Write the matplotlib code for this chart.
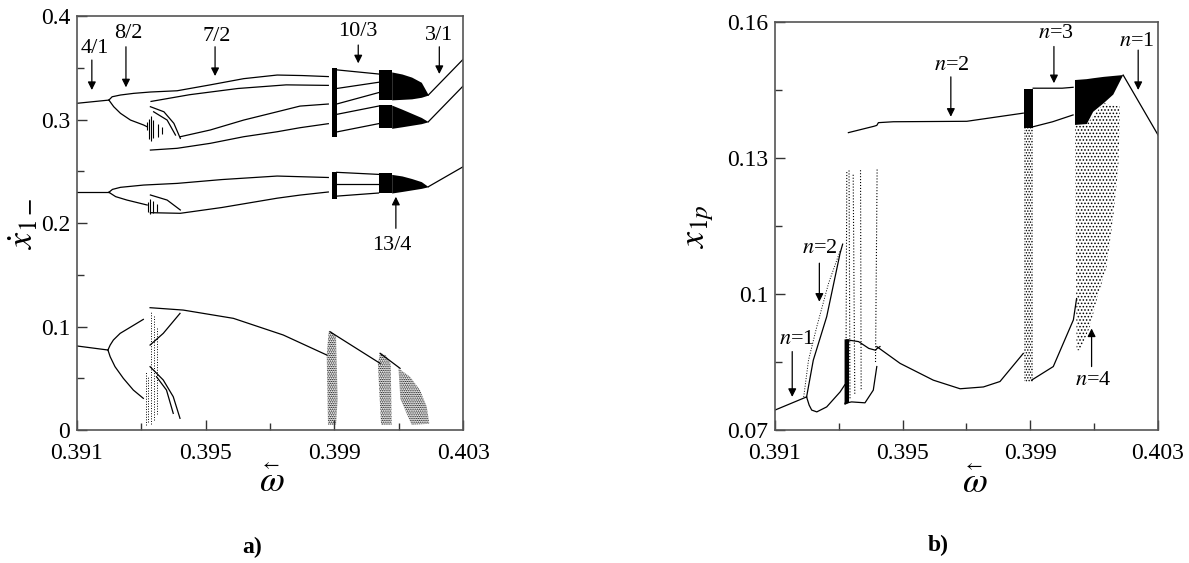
import numpy as np
import matplotlib.pyplot as plt

plt.rcParams['font.family'] = ['Liberation Serif', 'DejaVu Serif']
plt.rcParams['mathtext.fontset'] = 'stix'
plt.rcParams['hatch.linewidth'] = 0.7

# ---------------- panel a): x1- (velocity) vs omega ----------------
# upper group (~0.3)
a_p1_w = [0.3910, 0.39199]
a_p1_y = [0.3157, 0.3188]
a_top_w = [0.39199, 0.39209, 0.39235, 0.39276, 0.39328, 0.39411, 0.39514, 0.39618, 0.39722, 0.39800, 0.39881]
a_top_y = [0.3188, 0.3220, 0.3237, 0.3253, 0.3266, 0.3278, 0.3335, 0.3395, 0.3430, 0.3425, 0.3415]
a_sec_w = [0.39330, 0.39450, 0.39600, 0.39750, 0.39881]
a_sec_y = [0.3175, 0.3240, 0.3300, 0.3335, 0.3330]
a_thr_w = [0.39421, 0.39514, 0.39618, 0.39722, 0.39793, 0.39881]
a_thr_y = [0.2834, 0.2899, 0.2995, 0.3075, 0.3130, 0.3150]
a_bot_w = [0.39328, 0.39411, 0.39514, 0.39618, 0.39722, 0.39793, 0.39881]
a_bot_y = [0.2705, 0.2722, 0.2770, 0.2834, 0.2882, 0.2921, 0.2960]
a_low_w = [0.39199, 0.39214, 0.39235, 0.39266, 0.39307, 0.39318]
a_low_y = [0.3188, 0.3124, 0.3060, 0.2995, 0.2947, 0.2930]
a_arc1_w = [0.39328, 0.39370, 0.39401, 0.39421]
a_arc1_y = [0.3124, 0.3075, 0.2963, 0.2818]
a_arc2_w = [0.39338, 0.39380, 0.39406]
a_arc2_y = [0.3075, 0.2995, 0.2850]
a_spk_w = [0.39318, 0.39324, 0.39330, 0.39337, 0.39352, 0.39365]
a_spk_lo = [0.2900, 0.2810, 0.2790, 0.2820, 0.2830, 0.2860]
a_spk_hi = [0.2980, 0.3010, 0.3030, 0.3000, 0.2960, 0.2930]
# period-3 fan between the chaotic bands (left / right end values)
a_fan_y0 = [0.3480, 0.3300, 0.3150, 0.3050, 0.2880]
a_fan_y1 = [0.3440, 0.3360, 0.3260, 0.3130, 0.2960]
a_p3_w = [0.40192, 0.40300]
a_p3a_y = [0.3237, 0.3582]
a_p3b_y = [0.2979, 0.3324]

# middle group (~0.23)
b_p1_w = [0.3910, 0.39199]
b_p1_y = [0.2297, 0.2297]
b_up_w = [0.39199, 0.39210, 0.39235, 0.39307, 0.39411, 0.39550, 0.39722, 0.39881]
b_up_y = [0.2297, 0.2325, 0.2345, 0.2367, 0.2383, 0.2420, 0.2454, 0.2440]
b_lw_w = [0.39199, 0.39220, 0.39255, 0.39318]
b_lw_y = [0.2297, 0.2255, 0.2222, 0.2174]
b_bt_w = [0.39328, 0.39421, 0.39550, 0.39722, 0.39793, 0.39881]
b_bt_y = [0.2100, 0.2094, 0.2150, 0.2240, 0.2270, 0.2300]
b_arc_w = [0.39328, 0.39380, 0.39421]
b_arc_y = [0.2271, 0.2222, 0.2126]
b_spk_w = [0.39320, 0.39328, 0.39336, 0.39348]
b_spk_lo = [0.2110, 0.2090, 0.2100, 0.2110]
b_spk_hi = [0.2200, 0.2230, 0.2210, 0.2180]
b_fan_y0 = [0.2490, 0.2380, 0.2260]
b_fan_y1 = [0.2470, 0.2380, 0.2290]
b_p3_y = [0.2351, 0.2544]

# lower group (~0.1)
c_p1_w = [0.3910, 0.39196]
c_p1_y = [0.0812, 0.0773]
c_up_w = [0.39196, 0.39203, 0.39213, 0.39234, 0.39265, 0.39306]
c_up_y = [0.0773, 0.0821, 0.0870, 0.0934, 0.0992, 0.1069]
c_lw_w = [0.39196, 0.39203, 0.39218, 0.39244, 0.39275, 0.39306]
c_lw_y = [0.0773, 0.0708, 0.0612, 0.0499, 0.0386, 0.0306]
c_top_w = [0.39327, 0.39430, 0.39586, 0.39741, 0.39876]
c_top_y = [0.1182, 0.1159, 0.1079, 0.0918, 0.0725]
c_ris_w = [0.39327, 0.39368, 0.39420]
c_ris_y = [0.0821, 0.0934, 0.1127]
c_arc1_w = [0.39327, 0.39368, 0.39399, 0.39420]
c_arc1_y = [0.0612, 0.0483, 0.0322, 0.0113]
c_arc2_w = [0.39347, 0.39378, 0.39399]
c_arc2_y = [0.0515, 0.0386, 0.0161]
c_spk_w = [0.39315, 0.39322, 0.39330, 0.39338, 0.39348]
c_spk_lo = [0.0050, 0.0080, 0.0060, 0.0100, 0.0150]
c_spk_hi = [0.0560, 0.0520, 0.1150, 0.1100, 0.1000]
c_s1_w = [0.39886, 0.40042]
c_s1_y = [0.0950, 0.0644]
c_s2_w = [0.40042, 0.40104]
c_s2_y = [0.0741, 0.0596]

# chaotic bands in a)
band_w = [0.39892, 0.39907]
a_band1_lo, a_band1_hi = 0.2834, 0.3495
a_band2_w = [0.40037, 0.40078]
a_band2_hi = [0.3478, 0.3140]
a_band2_lo = [0.3190, 0.2915]
a_fanup_w = [0.40078, 0.40110, 0.40140, 0.40170, 0.40192]
a_fanup_hi = [0.3460, 0.3440, 0.3410, 0.3360, 0.3237]
a_fanup_lo = [0.3190, 0.3195, 0.3200, 0.3215, 0.3237]
a_fanlw_hi = [0.3140, 0.3100, 0.3060, 0.3020, 0.2979]
a_fanlw_lo = [0.2915, 0.2930, 0.2945, 0.2960, 0.2979]
b_band1_lo, b_band1_hi = 0.2229, 0.2496
b_band2_lo, b_band2_hi = 0.2287, 0.2480
b_fan_w = [0.40078, 0.40110, 0.40140, 0.40170, 0.40192]
b_fan_hi = [0.2470, 0.2455, 0.2430, 0.2400, 0.2351]
b_fan_lo = [0.2290, 0.2305, 0.2320, 0.2335, 0.2351]
c_ch1_w = [0.39876, 0.39882, 0.39892, 0.39905, 0.39910, 0.39905, 0.39880]
c_ch1_y = [0.0725, 0.0950, 0.0950, 0.0900, 0.0300, 0.0050, 0.0050]
c_ch2_w = [0.40035, 0.40042, 0.40060, 0.40075, 0.40078, 0.40045]
c_ch2_y = [0.0640, 0.0747, 0.0720, 0.0640, 0.0050, 0.0050]
c_ch3_w = [0.40099, 0.40135, 0.40166, 0.40187, 0.40195, 0.40140, 0.40105]
c_ch3_y = [0.0596, 0.0515, 0.0386, 0.0225, 0.0060, 0.0050, 0.0300]

# ---------------- panel b): x1p vs omega ----------------
p_n1_w = [0.3910, 0.39199]
p_n1_y = [0.0744, 0.0773]
p_dip_w = [0.39199, 0.39207, 0.39215, 0.39231, 0.39262, 0.39304, 0.39319]
p_dip_y = [0.0773, 0.0755, 0.0744, 0.0740, 0.0751, 0.0784, 0.0800]
p_n2_w = [0.39199, 0.39220, 0.39262, 0.39304, 0.39312]
p_n2_y = [0.0773, 0.0854, 0.0950, 0.1090, 0.1110]
p_n2d_w = [0.39190, 0.39205, 0.39231, 0.39268, 0.39305]
p_n2d_y = [0.0773, 0.0854, 0.0928, 0.1024, 0.1097]
p_hump_w = [0.39325, 0.39362, 0.39394, 0.39415, 0.39420, 0.39429]
p_hump_y = [0.0899, 0.0895, 0.0880, 0.0876, 0.0880, 0.0884]
p_low_w = [0.39419, 0.39492, 0.39596, 0.39680, 0.39753, 0.39805, 0.39878]
p_low_y = [0.0884, 0.0847, 0.0810, 0.0791, 0.0795, 0.0807, 0.0869]
p_dip2_w = [0.39319, 0.39340, 0.39382, 0.39408, 0.39419]
p_dip2_y = [0.0759, 0.0762, 0.0760, 0.0788, 0.0840]
p_up_w = [0.39330, 0.39410, 0.39419, 0.39424, 0.39471, 0.39701, 0.39878]
p_up_y = [0.1356, 0.1370, 0.1372, 0.1378, 0.1380, 0.1381, 0.1399]
p_n3_w = [0.39909, 0.39950, 0.40000, 0.40034]
p_n3_y = [0.1454, 0.1454, 0.1454, 0.1456]
p_n3b_w = [0.39909, 0.39970, 0.40034]
p_n3b_y = [0.1369, 0.1380, 0.1395]
p_rise_w = [0.39904, 0.39972, 0.40035, 0.40045]
p_rise_y = [0.0810, 0.0840, 0.0943, 0.0990]
p_n1r_w = [0.40191, 0.40300]
p_n1r_y = [0.1483, 0.1351]
# streaks of scattered points near 0.3933
p_stk_w0 = [0.39322, 0.39335, 0.39350, 0.39370, 0.39415]
p_stk_w1 = [0.39325, 0.39332, 0.39345, 0.39368, 0.39420]
p_stk_y0 = [0.0760, 0.0770, 0.0780, 0.0790, 0.0850]
p_stk_y1 = [0.1270, 0.1275, 0.1265, 0.1275, 0.1275]
# chaotic bands in b)
p_ch0_w = [0.39318, 0.39332, 0.39332, 0.39318]
p_ch0_y = [0.0755, 0.0760, 0.0900, 0.0900]
p_ch1_w = [0.39880, 0.39909]
p_ch1_dense = [0.1366, 0.1452]
p_ch1_sparse = [0.0807, 0.1366]
p_ch2_w = [0.40040, 0.40077, 0.40097, 0.40130, 0.40160, 0.40191, 0.40160, 0.40130, 0.40097, 0.40077, 0.40040]
p_ch2_y = [0.1472, 0.1474, 0.1476, 0.1479, 0.1481, 0.1483, 0.1440, 0.1421, 0.1402, 0.1375, 0.1373]
p_cl_w = [0.40040, 0.40077, 0.40130, 0.40181, 0.40176, 0.40160, 0.40139, 0.40108, 0.40087, 0.40056, 0.40045]
p_cl_y = [0.1373, 0.1375, 0.1421, 0.1413, 0.1281, 0.1171, 0.1060, 0.0987, 0.0928, 0.0876, 0.0876]

fig = plt.figure(figsize=(11.89, 5.63), dpi=100)
ax1 = fig.add_axes([0.0648, 0.2362, 0.3247, 0.7353])
ax2 = fig.add_axes([0.6518, 0.2362, 0.3221, 0.7247])

lw = 0.9
kw = dict(color='k', lw=lw)

# ---- draw a) ----
for w, y in [(a_p1_w, a_p1_y), (a_top_w, a_top_y), (a_sec_w, a_sec_y), (a_thr_w, a_thr_y),
             (a_bot_w, a_bot_y), (a_low_w, a_low_y), (a_arc1_w, a_arc1_y), (a_arc2_w, a_arc2_y),
             (b_p1_w, b_p1_y), (b_up_w, b_up_y), (b_lw_w, b_lw_y), (b_bt_w, b_bt_y), (b_arc_w, b_arc_y),
             (c_p1_w, c_p1_y), (c_up_w, c_up_y), (c_lw_w, c_lw_y), (c_top_w, c_top_y), (c_ris_w, c_ris_y),
             (c_arc1_w, c_arc1_y), (c_arc2_w, c_arc2_y), (c_s1_w, c_s1_y), (c_s2_w, c_s2_y),
             (a_p3_w, a_p3a_y), (a_p3_w, a_p3b_y), (a_p3_w, b_p3_y)]:
    ax1.plot(w, y, **kw)
ax1.vlines(a_spk_w, a_spk_lo, a_spk_hi, color='k', lw=0.8)
ax1.vlines(b_spk_w, b_spk_lo, b_spk_hi, color='k', lw=0.8)
ax1.vlines(c_spk_w, c_spk_lo, c_spk_hi, color='k', lw=0.7, linestyles=':')

# period-3 fans between bands
for y0, y1 in zip(a_fan_y0 + b_fan_y0, a_fan_y1 + b_fan_y1):
    ax1.plot([band_w[1], a_band2_w[0]], [y0, y1], **kw)

# bands
ax1.fill_between(band_w, a_band1_lo, a_band1_hi, color='k', lw=0)
ax1.fill_between(band_w, b_band1_lo, b_band1_hi, color='k', lw=0)
ax1.fill_between(a_band2_w, a_band2_lo[0], a_band2_hi[0], color='k', lw=0)
ax1.fill_between(a_band2_w, a_band2_lo[1], a_band2_hi[1], color='k', lw=0)
ax1.fill_between(a_band2_w, b_band2_lo, b_band2_hi, color='k', lw=0)
ax1.fill_between(a_fanup_w, a_fanup_lo, a_fanup_hi, color='k', lw=0)
ax1.fill_between(a_fanup_w, a_fanlw_lo, a_fanlw_hi, color='k', lw=0)
ax1.fill_between(b_fan_w, b_fan_lo, b_fan_hi, color='k', lw=0)
for w, y in [(c_ch1_w, c_ch1_y), (c_ch2_w, c_ch2_y), (c_ch3_w, c_ch3_y)]:
    ax1.fill(w, y, facecolor='none', edgecolor='k', hatch='.........', lw=0)

# ---- draw b) ----
for w, y in [(p_n1_w, p_n1_y), (p_dip_w, p_dip_y), (p_n2_w, p_n2_y), (p_hump_w, p_hump_y),
             (p_low_w, p_low_y), (p_dip2_w, p_dip2_y), (p_up_w, p_up_y), (p_n3_w, p_n3_y),
             (p_n3b_w, p_n3b_y), (p_rise_w, p_rise_y), (p_n1r_w, p_n1r_y)]:
    ax2.plot(w, y, **kw)
ax2.plot(p_n2d_w, p_n2d_y, color='k', lw=0.7, ls=':')
for w0, w1, y0, y1 in zip(p_stk_w0, p_stk_w1, p_stk_y0, p_stk_y1):
    ax2.plot([w0, w1], [y0, y1], color='k', lw=0.8, ls=':')
ax2.fill(p_ch0_w, p_ch0_y, color='k', lw=0)
ax2.fill_between(p_ch1_w, p_ch1_dense[0], p_ch1_dense[1], color='k', lw=0)
ax2.fill_between(p_ch1_w, p_ch1_sparse[0], p_ch1_sparse[1], facecolor='none', edgecolor='k',
                 hatch='......', lw=0)
ax2.fill(p_ch2_w, p_ch2_y, color='k', lw=0)
ax2.fill(p_cl_w, p_cl_y, facecolor='none', edgecolor='k', hatch='.....', lw=0)

# ---- annotations ----
arr = dict(arrowstyle='-|>', color='k', lw=0.9, mutation_scale=12, shrinkA=0, shrinkB=0)
tfs = 16
for txt, xt, yt, xa, ya0, ya1 in [('4/1', 0.39156, 0.3688, 0.39146, 0.3575, 0.3285),
                                   ('8/2', 0.39259, 0.3833, 0.39252, 0.3703, 0.3311),
                                   ('7/2', 0.39534, 0.3800, 0.39529, 0.3703, 0.3420),
                                   ('10/3', 0.39974, 0.3849, 0.39974, 0.3720, 0.3543),
                                   ('3/1', 0.40226, 0.3816, 0.40226, 0.3703, 0.3440),
                                   ('13/4', 0.40078, 0.1787, 0.40091, 0.1949, 0.2254)]:
    ax1.text(xt, yt, txt, ha='center', va='center', fontsize=tfs)
    ax1.annotate('', xy=(xa, ya1), xytext=(xa, ya0), arrowprops=arr)

for txt, xt, yt, xa, ya0, ya1 in [('2', 0.39654, 0.1505, 0.39651, 0.1479, 0.1391),
                                   ('3', 0.39980, 0.1575, 0.39974, 0.1546, 0.1465),
                                   ('1', 0.40233, 0.1557, 0.40238, 0.1538, 0.1450),
                                   ('4', 0.40097, 0.0810, 0.40092, 0.0840, 0.0924),
                                   ('2', 0.39241, 0.1101, 0.39239, 0.1068, 0.0983),
                                   ('1', 0.39168, 0.0899, 0.39154, 0.0873, 0.0773)]:
    ax2.text(xt, yt, r'$n$=' + txt, ha='center', va='center', fontsize=tfs)
    ax2.annotate('', xy=(xa, ya1), xytext=(xa, ya0), arrowprops=arr)

# ---- axes styling ----
for ax, xc, yw in ((ax1, 0.505, -0.126), (ax2, 0.522, -0.130)):
    ax.set_xlim(0.391, 0.403)
    ax.set_xticks([0.391, 0.395, 0.399, 0.403])
    ax.set_xticklabels(['0.391', '0.395', '0.399', '0.403'])
    ax.set_xticks([0.393, 0.397, 0.401], minor=True)
    ax.tick_params(which='both', direction='in', labelsize=17, color='#333333', width=1)
    ax.tick_params(which='major', length=7)
    ax.tick_params(which='minor', length=5)
    ax.tick_params(axis='x', which='major', pad=9)
    ax.tick_params(axis='y', which='major', pad=5)
    for s in ax.spines.values():
        s.set_color('#555555')
        s.set_linewidth(1.2)
    # omega with a small left arrow accent
    ax.text(xc, yw, r'$\omega$', transform=ax.transAxes, ha='center', va='center', fontsize=26)
    ax.text(xc - 0.004, yw + 0.042, r'$\leftarrow$', transform=ax.transAxes,
            ha='center', va='center', fontsize=13)

ax1.set_ylim(0, 0.4)
ax1.set_yticks([0, 0.1, 0.2, 0.3, 0.4])
ax1.set_yticklabels(['0', '0.1', '0.2', '0.3', '0.4'])
ax1.set_yticks([0.05, 0.15, 0.25, 0.35], minor=True)
ax1.set_ylabel(r'$\dot{x}_{1-}$', fontsize=26, labelpad=0)

ax2.set_ylim(0.07, 0.16)
ax2.set_yticks([0.07, 0.10, 0.13, 0.16])
ax2.set_yticklabels(['0.07', '0.1', '0.13', '0.16'])
ax2.set_yticks([0.085, 0.115, 0.145], minor=True)
ax2.set_ylabel(r'$x_{1p}$', fontsize=26, labelpad=8)

fig.text(0.212, 0.028, 'a)', ha='center', va='center', fontsize=17, fontweight='bold')
fig.text(0.789, 0.032, 'b)', ha='center', va='center', fontsize=17, fontweight='bold')

fig.savefig('out.png', dpi=100)
